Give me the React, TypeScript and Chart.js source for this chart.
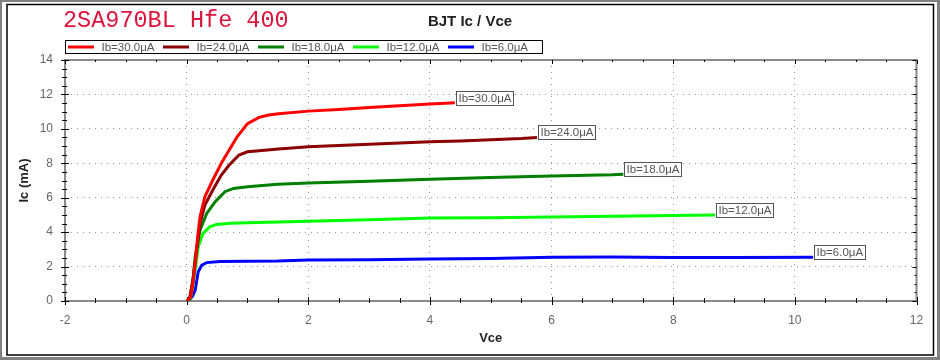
import React, { useEffect, useRef } from 'react';
import { Chart, registerables } from 'chart.js';

Chart.register(...registerables);

// ---- data ----
const seriesLabels = ['Ib=30.0μA', 'Ib=24.0μA', 'Ib=18.0μA', 'Ib=12.0μA', 'Ib=6.0μA'];
const seriesColors = ['#ff0000', '#8b0000', '#007f00', '#00ff00', '#0000ff'];

const vce30 = [0, 0.05, 0.08, 0.11, 0.14, 0.18, 0.22, 0.3, 0.43, 0.57, 0.7, 0.83, 1.0, 1.19, 1.35, 1.51, 2.0, 2.5, 3.0, 3.5, 4.0, 4.41];
const ic30 = [0, 0.15, 0.45, 1.2, 2.2, 3.7, 4.9, 6.06, 7.03, 8.0, 8.77, 9.54, 10.3, 10.67, 10.8, 10.88, 11.03, 11.13, 11.24, 11.34, 11.44, 11.52];

const vce24 = [0, 0.05, 0.11, 0.165, 0.22, 0.3, 0.43, 0.57, 0.7, 0.86, 1.0, 1.19, 1.51, 2.0, 2.5, 3.0, 3.5, 4.0, 4.5, 5.0, 5.5, 5.76];
const ic24 = [0, 0.15, 1.4, 2.96, 4.5, 5.57, 6.45, 7.32, 7.9, 8.48, 8.67, 8.73, 8.83, 8.96, 9.04, 9.11, 9.18, 9.25, 9.3, 9.37, 9.44, 9.5];

const vce18 = [0, 0.05, 0.1, 0.14, 0.22, 0.33, 0.47, 0.63, 0.77, 1.0, 1.5, 2.0, 3.0, 4.0, 5.0, 6.0, 7.0, 7.18];
const ic18 = [0, 0.12, 1.1, 2.57, 4.12, 5.09, 5.77, 6.35, 6.54, 6.64, 6.78, 6.85, 6.96, 7.07, 7.17, 7.26, 7.33, 7.36];

const vce12 = [0, 0.06, 0.1, 0.14, 0.19, 0.27, 0.38, 0.49, 0.72, 1.0, 1.5, 2.0, 3.0, 4.0, 5.0, 6.0, 7.0, 8.0, 8.69];
const ic12 = [0, 0.12, 0.8, 1.8, 3.15, 3.93, 4.31, 4.45, 4.51, 4.55, 4.59, 4.63, 4.72, 4.82, 4.84, 4.88, 4.93, 4.96, 4.99];

const vce6 = [0, 0.055, 0.1, 0.14, 0.19, 0.25, 0.33, 0.55, 1.0, 1.5, 2.0, 3.0, 4.0, 5.0, 6.0, 7.0, 8.0, 9.0, 10.3];
const ic6 = [0, 0.1, 0.3, 0.63, 1.7, 2.09, 2.23, 2.29, 2.31, 2.32, 2.38, 2.4, 2.44, 2.47, 2.54, 2.56, 2.52, 2.53, 2.54];

const seriesX = [vce30, vce24, vce18, vce12, vce6];
const seriesY = [ic30, ic24, ic18, ic12, ic6];

const xMin = -2, xMax = 12, xStep = 2;
const yMin = 0, yMax = 14, yStep = 2;
const minorStep = 0.5;

const chartTitle = 'BJT Ic / Vce';
const deviceTitle = '2SA970BL Hfe 400';
const xTitle = 'Vce';
const yTitle = 'Ic (mA)';

const SANS = '"Liberation Sans", Arial, sans-serif';

const framePlugin = {
  id: 'frame',
  beforeDraw(chart: any) {
    const ctx = chart.ctx;
    const W = chart.width, H = chart.height;
    ctx.save();
    ctx.fillStyle = '#808080';
    ctx.fillRect(0, 0, W, H);
    ctx.fillStyle = '#ffffff';
    ctx.fillRect(2, 2, W - 5, H - 5);
    ctx.strokeStyle = '#000000';
    ctx.lineWidth = 1.5;
    ctx.strokeRect(7, 4.5, W - 13.5, H - 9.5);
    // device title
    ctx.fillStyle = '#dc143c';
    ctx.font = '23.5px "Liberation Mono", "Courier New", monospace';
    ctx.textBaseline = 'middle';
    ctx.textAlign = 'left';
    ctx.fillText(deviceTitle, 63, 21);
    ctx.restore();
  },
};

const axesPlugin = {
  id: 'axesFrame',
  beforeDatasetsDraw(chart: any) {
    const ctx = chart.ctx;
    const { left, right, top, bottom } = chart.chartArea;
    const xs = chart.scales.x, ys = chart.scales.y;
    ctx.save();
    ctx.strokeStyle = '#8a8a8a';
    ctx.lineWidth = 2;
    ctx.strokeRect(left, top, right - left, bottom - top);
    ctx.strokeStyle = '#000';
    ctx.lineWidth = 1;
    ctx.beginPath();
    for (let v = xMin; v <= xMax + 1e-9; v += minorStep) {
      const px = Math.round(xs.getPixelForValue(v)) + 0.5;
      const major = Math.abs(v / xStep - Math.round(v / xStep)) < 1e-9;
      ctx.moveTo(px, bottom - (major ? 4 : 3));
      ctx.lineTo(px, bottom + (major ? 4 : 2));
      ctx.moveTo(px, top);
      ctx.lineTo(px, top + (major ? 4 : 2));
    }
    for (let v = yMin; v <= yMax + 1e-9; v += minorStep) {
      const py = Math.round(ys.getPixelForValue(v)) + 0.5;
      const major = Math.abs(v / yStep - Math.round(v / yStep)) < 1e-9;
      ctx.moveTo(left - (major ? 4 : 3), py);
      ctx.lineTo(left + (major ? 4 : 2), py);
      ctx.moveTo(right - (major ? 4 : 2), py);
      ctx.lineTo(right, py);
    }
    ctx.stroke();
    ctx.restore();
  },
};

const labelsPlugin = {
  id: 'curveLabels',
  afterDatasetsDraw(chart: any) {
    const ctx = chart.ctx;
    ctx.save();
    ctx.font = `11.5px ${SANS}`;
    ctx.textBaseline = 'middle';
    ctx.textAlign = 'left';
    chart.data.datasets.forEach((ds: any, i: number) => {
      const meta = chart.getDatasetMeta(i);
      const pt = meta.data[meta.data.length - 1];
      if (!pt) return;
      const tw = ctx.measureText(ds.label).width;
      const bx = Math.round(pt.x) + 1.5;
      const by = Math.round(pt.y) - 11.5;
      const bw = Math.round(tw + 4);
      const bh = 14;
      ctx.fillStyle = '#ffffff';
      ctx.fillRect(bx, by, bw, bh);
      ctx.strokeStyle = '#555';
      ctx.lineWidth = 1;
      ctx.strokeRect(bx, by, bw, bh);
      ctx.fillStyle = '#555';
      ctx.fillText(ds.label, bx + 2, by + bh / 2 + 0.5);
    });
    ctx.restore();
  },
};

const legendPlugin = {
  id: 'boxLegend',
  afterDraw(chart: any) {
    const ctx = chart.ctx;
    const left = chart.chartArea.left;
    const top = 40.5, h = 13, cy = 47;
    ctx.save();
    ctx.font = `11.5px ${SANS}`;
    ctx.textBaseline = 'middle';
    ctx.textAlign = 'left';
    let x = left + 3;
    let end = x;
    chart.data.datasets.forEach((ds: any) => {
      ctx.strokeStyle = ds.borderColor;
      ctx.lineWidth = 3;
      ctx.beginPath();
      ctx.moveTo(x, cy);
      ctx.lineTo(x + 26, cy);
      ctx.stroke();
      const tx = x + 33.5;
      const tw = ctx.measureText(ds.label).width;
      ctx.fillStyle = '#555';
      ctx.fillText(ds.label, tx, cy + 0.5);
      end = tx + tw;
      x = tx + tw + 8.5;
    });
    ctx.strokeStyle = '#000';
    ctx.lineWidth = 1;
    ctx.strokeRect(left + 0.5, top, Math.round(end + 14 - left), h);
    ctx.restore();
  },
};

export default function App() {
  const ref = useRef<HTMLCanvasElement | null>(null);
  useEffect(() => {
    if (!ref.current) return;
    const datasets = seriesLabels.map((label, i) => ({
      label,
      data: seriesX[i].map((x, j) => ({ x, y: seriesY[i][j] })),
      borderColor: seriesColors[i],
      backgroundColor: seriesColors[i],
      borderWidth: 3,
      pointRadius: 0,
      showLine: true,
      tension: 0,
      fill: false,
    }));
    const chart = new Chart(ref.current, {
      type: 'scatter',
      data: { datasets },
      options: {
        animation: false,
        responsive: false,
        devicePixelRatio: 1,
        layout: { padding: 0 },
        plugins: {
          legend: { display: false },
          tooltip: { enabled: false },
          title: {
            display: true,
            text: chartTitle,
            color: '#222',
            font: { family: SANS, size: 15, weight: 'bold', lineHeight: 1.2 },
            padding: { top: 12.5, bottom: 29.5 },
          },
        },
        scales: {
          x: {
            type: 'linear',
            min: xMin,
            max: xMax,
            ticks: { stepSize: xStep, color: '#666', font: { family: SANS, size: 12 }, padding: 12 },
            grid: { color: '#999', drawTicks: false, lineWidth: 1 },
            border: { display: false, dash: [1, 5] },
            title: {
              display: true,
              text: xTitle,
              color: '#222',
              font: { family: SANS, size: 13, weight: 'bold', lineHeight: 1.2 },
              padding: { top: 4, bottom: 14 },
            },
            afterFit: (s: any) => { s.height = 59; },
          },
          y: {
            type: 'linear',
            min: yMin,
            max: yMax,
            ticks: { stepSize: yStep, color: '#666', font: { family: SANS, size: 12 }, padding: 12 },
            grid: { color: '#999', drawTicks: false, lineWidth: 1 },
            border: { display: false, dash: [1, 5] },
            title: {
              display: true,
              text: yTitle,
              color: '#222',
              font: { family: SANS, size: 13, weight: 'bold', lineHeight: 1.2 },
              padding: { top: 17, bottom: 4 },
            },
            afterFit: (s: any) => { s.width = 65; },
          },
          yr: {
            type: 'linear',
            position: 'right',
            display: true,
            ticks: { display: false },
            grid: { display: false, drawTicks: false },
            border: { display: false },
            afterFit: (s: any) => { s.width = 23.5; },
          },
        },
      } as any,
      plugins: [framePlugin, axesPlugin, labelsPlugin, legendPlugin],
    });
    return () => chart.destroy();
  }, []);
  return (
    <div style={{ position: 'absolute', left: 0, top: 0, width: 940, height: 360 }}>
      <canvas ref={ref} width={940} height={360} />
    </div>
  );
}
